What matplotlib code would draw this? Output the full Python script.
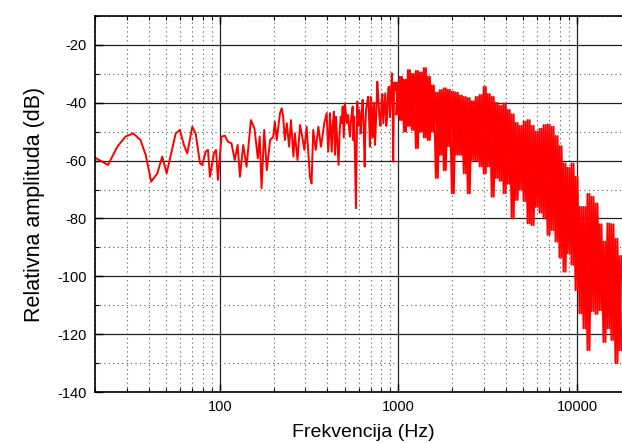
import matplotlib
matplotlib.use("Agg")
import matplotlib.pyplot as plt
from matplotlib.ticker import LogLocator, FixedLocator, MultipleLocator, NullFormatter, FixedFormatter

# low frequencies, single vertices
low_freq = [20, 23.6, 26.6, 29.6, 32.7, 35.9, 38.4, 41.2, 44.6, 47.5, 50.3, 56.5, 59.7, 62.8,
            65.6, 70, 73.1, 77.3, 79.6, 83.2, 85.7, 87.9, 92.5, 95, 97.5, 102, 106.6, 111, 116,
            121, 125.6, 129.4, 135, 141, 149, 156, 163, 167, 171, 177, 183, 191, 199, 203, 208,
            217, 222, 226, 231, 237, 244, 250, 258, 263, 272, 281, 289, 297, 306, 319, 326, 333,
            344, 356, 368, 384]
low_db = [-59, -61.5, -55.2, -51.7, -50.6, -52.9, -58.1, -67.3, -64.4, -58.6, -64.4, -50.6, -49.4,
          -54.6, -57.5, -48.3, -50.6, -60.9, -61.5, -56.9, -56.3, -65.6, -57.5, -56.3, -66.7,
          -51.7, -51.4, -53.5, -54, -59.8, -54.6, -65.6, -54.6, -62.1, -46, -48.8, -59.2, -51.7,
          -69.6, -49.4, -63.3, -52.9, -51.7, -46.5, -52.9, -43.6, -41.9, -44.8, -52.9, -47.1,
          -55.2, -46, -58.6, -50.6, -59.8, -47.7, -51.7, -56.3, -48.3, -65.6, -67.9, -49.4,
          -56.3, -48.3, -55.2, -47.1]

# mid band
mid_freq = [396, 404, 410, 413, 423, 428, 435, 441, 447, 454, 462, 468, 475, 481, 487, 494, 501,
            507, 513, 523, 529, 535, 544, 554, 560, 565, 578, 588, 595, 603, 609, 614, 622, 630,
            638, 647, 652, 658, 667, 677, 685, 692, 700, 708, 716, 723, 731, 739, 750, 761, 771,
            781, 793, 805, 813, 822, 833, 844, 855, 866, 877, 888, 896, 904, 912, 919, 927, 935,
            945, 956]
mid_db = [-43.6, -56.9, -50, -43.6, -56.9, -48, -43.1, -58, -44.8, -53.5, -61.5, -50, -44.8, -47,
          -41.3, -52, -40.2, -43, -47.1, -44.2, -49, -51.7, -45, -41.3, -53, -44.8, -76.5, -39.6,
          -48, -42.5, -45, -50.6, -44, -39, -48, -62.1, -50, -42.5, -40, -37.9, -46, -55.2, -38,
          -41.3, -52, -43.6, -40, -54.6, -45, -32.7, -38, -44.8, -48, -39, -37, -47.1, -42,
          -36.7, -48, -43.6, -35, -34.4, -45, -39, -36, -29.8, -40, -60.4, -33, -35.6]

# dense part above ~1 kHz: curve swings between upper and lower edge
hf_freq = [968, 993, 1019, 1046, 1073, 1101, 1130, 1159, 1189, 1220, 1252, 1285, 1318, 1352,
           1388, 1424, 1461, 1499, 1538, 1578, 1619, 1662, 1705, 1749, 1795, 1842, 1890, 1939,
           1990, 2042, 2095, 2150, 2206, 2263, 2322, 2383, 2445, 2509, 2574, 2641, 2710, 2781,
           2853, 2928, 3004, 3082, 3163, 3245, 3330, 3416, 3505, 3597, 3690, 3787, 3885, 3987,
           4091, 4197, 4307, 4419, 4534, 4652, 4774, 4898, 5026, 5157, 5291, 5429, 5571, 5716,
           5865, 6018, 6175, 6336, 6501, 6671, 6845, 7023, 7206, 7394, 7587, 7785, 7988, 8196,
           8410, 8629, 8854, 9085, 9322, 9565, 9815, 10071, 10333, 10603, 10879, 11163, 11454,
           11753, 12059, 12374, 12696, 13027, 13367, 13716, 14073, 14440, 14817, 15203, 15600,
           16006, 16424, 16852, 17291, 17742]
hf_top = [-33, -31, -32, -28.7, -30, -29, -29.5, -28, -31, -34, -36.5, -35.6, -35, -35.5, -36.2,
          -36.5, -37.5, -38, -38.4, -39.5, -38, -37.3, -34.5, -37, -38, -40, -41, -40.2, -42.5,
          -44, -47, -48, -46.5, -46, -48, -50, -49, -47.7, -47.5, -48.3, -51.5, -55, -61, -62.5,
          -61, -65.6, -76, -76, -71.5, -72.5, -74.8, -82, -88, -81.7, -82, -87, -93]
hf_bottom = [-44, -46, -50, -48, -49.4, -55.7, -50, -52, -52.9, -50, -66, -58, -63.3, -55, -71.3,
             -58, -58, -64.4, -71.3, -59.8, -60, -62, -64.4, -62, -72.5, -66, -67, -71.3, -68,
             -80, -73.6, -70, -74, -81.7, -82.3, -76, -78, -80, -85.7, -84, -88, -93.5, -98.4,
             -92, -96, -104.8, -112.8, -118, -125.5, -112, -113, -111.7, -122.7, -118, -122,
             -130, -125.5]

y_ticks = [-140, -120, -100, -80, -60, -40, -20]
x_ticks = [100, 1000, 10000]
x_labels = ["100", "1000", "10000"]

# forward pass: top, bottom, top, ... ; return pass swaps them so the band gets filled
hf_db = []
hf_db_back = []
for t, b in zip(hf_top, hf_bottom):
    hf_db += [t, b]
    hf_db_back += [b, t]

freq = low_freq + mid_freq + hf_freq
db = low_db + mid_db + hf_db

plt.rcParams['font.family'] = ['Liberation Sans', 'DejaVu Sans']
plt.rcParams['axes.unicode_minus'] = False

fig = plt.figure(figsize=(6.22, 4.43), dpi=100)
ax = fig.add_axes([0.153, 0.115, 0.861, 0.849])

ax.plot(freq, db, color='#ff0000', lw=1.4)
ax.plot(hf_freq, hf_db_back, color='#ff0000', lw=1.4)

ax.set_xscale('log')
ax.set_xlim(20, 20000)
ax.set_ylim(-140, -10)

ax.xaxis.set_major_locator(FixedLocator(x_ticks))
ax.xaxis.set_major_formatter(FixedFormatter(x_labels))
ax.xaxis.set_minor_locator(LogLocator(base=10, subs=range(2, 10)))
ax.xaxis.set_minor_formatter(NullFormatter())
ax.yaxis.set_major_locator(FixedLocator(y_ticks))
ax.yaxis.set_minor_locator(MultipleLocator(10))

ax.grid(True, which='major', color='#222222', lw=0.9, ls='-')
ax.grid(True, which='minor', color='#555555', lw=0.8, ls=(0, (1, 3)))
ax.set_axisbelow(True)

ax.tick_params(which='both', direction='in', top=True, right=False, labelsize=10.5)
ax.tick_params(which='major', length=6, width=1, pad=6)
ax.tick_params(which='minor', length=3, width=0.8)
for s in ax.spines.values():
    s.set_linewidth(1.2)

ax.set_xlabel("Frekvencija (Hz)", fontsize=14, labelpad=7)
ax.set_ylabel("Relativna amplituda (dB)", fontsize=15.5, labelpad=9)

fig.savefig("out.png", dpi=100)
